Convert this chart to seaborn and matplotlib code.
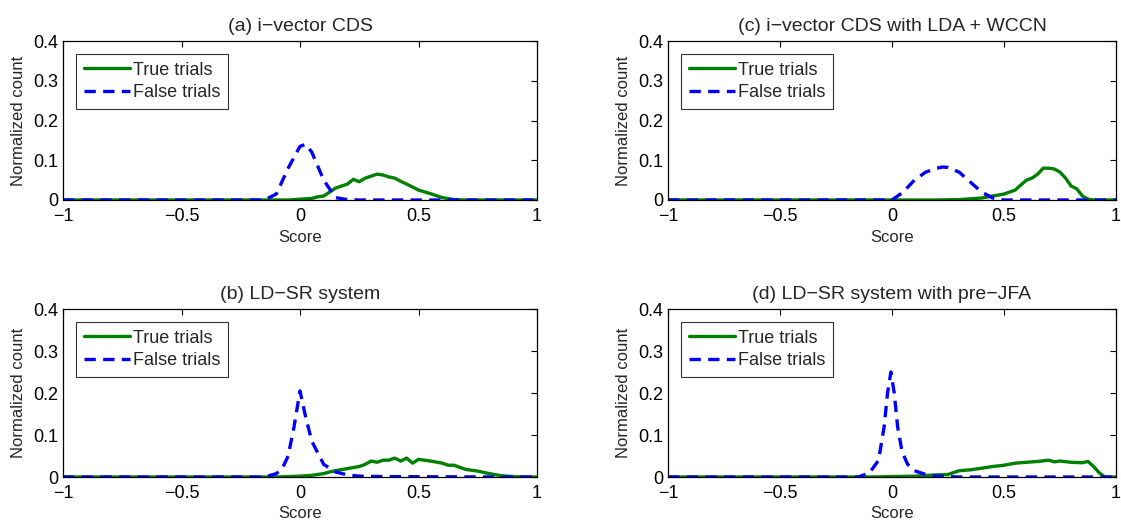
import numpy as np
import pandas as pd
import seaborn as sns
import matplotlib
matplotlib.use('Agg')
import matplotlib.pyplot as plt

titles = ['(a) i\u2212vector CDS', '(c) i\u2212vector CDS with LDA + WCCN',
          '(b) LD\u2212SR system', '(d) LD\u2212SR system with pre\u2212JFA']

# (a)
a_true_x = [-1, -0.05, 0, 0.05, 0.075, 0.1, 0.125, 0.15, 0.175, 0.2, 0.225, 0.25, 0.275, 0.3, 0.325,
            0.35, 0.375, 0.4, 0.425, 0.45, 0.5, 0.55, 0.6, 0.65, 0.7, 1]
a_true_y = [0, 0, 0.002, 0.004, 0.008, 0.01, 0.02, 0.03, 0.035, 0.04, 0.052, 0.046, 0.055, 0.06, 0.065,
            0.063, 0.058, 0.055, 0.047, 0.04, 0.025, 0.016, 0.006, 0.001, 0, 0]
a_false_x = [-1, -0.15, -0.1, -0.05, 0, 0.025, 0.05, 0.1, 0.15, 0.2, 0.25, 1]
a_false_y = [0, 0, 0.015, 0.08, 0.135, 0.14, 0.12, 0.05, 0.006, 0.001, 0, 0]

# (c)
c_true_x = [-1, 0.2, 0.3, 0.4, 0.45, 0.5, 0.525, 0.55, 0.6, 0.625, 0.65, 0.675, 0.7, 0.725, 0.75,
            0.775, 0.8, 0.825, 0.85, 0.875, 0.9, 1]
c_true_y = [0, 0, 0.001, 0.005, 0.01, 0.015, 0.02, 0.025, 0.05, 0.055, 0.065, 0.08, 0.08, 0.078, 0.07,
            0.055, 0.035, 0.028, 0.01, 0.002, 0, 0]
c_false_x = [-1, 0, 0.05, 0.1, 0.15, 0.2, 0.225, 0.25, 0.3, 0.35, 0.4, 0.45, 0.5, 1]
c_false_y = [0, 0, 0.02, 0.05, 0.07, 0.08, 0.083, 0.082, 0.07, 0.045, 0.02, 0.005, 0, 0]

# (b)
b_true_x = [-1, -0.1, 0, 0.05, 0.1, 0.125, 0.15, 0.2, 0.25, 0.275, 0.3, 0.325, 0.35, 0.375, 0.4,
            0.425, 0.45, 0.475, 0.5, 0.55, 0.6, 0.625, 0.65, 0.7, 0.75, 0.8, 0.85, 0.9, 0.95, 1]
b_true_y = [0, 0, 0.002, 0.004, 0.008, 0.012, 0.015, 0.02, 0.025, 0.03, 0.038, 0.035, 0.04, 0.04, 0.045,
            0.038, 0.045, 0.033, 0.042, 0.038, 0.033, 0.028, 0.028, 0.018, 0.014, 0.008, 0.003, 0.001, 0, 0]
b_false_x = [-1, -0.15, -0.1, -0.075, -0.05, -0.025, 0, 0.025, 0.05, 0.1, 0.15, 0.2, 0.25, 0.35, 0.6, 0.85, 1]
b_false_y = [0, 0, 0.008, 0.02, 0.05, 0.12, 0.205, 0.14, 0.085, 0.03, 0.012, 0.005, 0.002, 0.001, 0.0005, 0, 0]

# (d)
d_true_x = [-1, -0.1, 0.1, 0.2, 0.25, 0.3, 0.35, 0.4, 0.45, 0.5, 0.55, 0.6, 0.65, 0.7, 0.725,
            0.75, 0.8, 0.85, 0.875, 0.9, 0.925, 0.95, 1]
d_true_y = [0, 0, 0.002, 0.005, 0.006, 0.015, 0.017, 0.021, 0.025, 0.028, 0.033, 0.035, 0.037, 0.04, 0.036,
            0.038, 0.035, 0.034, 0.037, 0.025, 0.01, 0, 0]
d_false_x = [-1, -0.15, -0.1, -0.06, -0.035, -0.02, -0.005, 0.01, 0.025, 0.045, 0.07, 0.1, 0.15, 0.2, 0.3, 1]
d_false_y = [0, 0, 0.01, 0.04, 0.12, 0.2, 0.25, 0.2, 0.12, 0.06, 0.03, 0.015, 0.006, 0.002, 0, 0]

curves = [(a_true_x, a_true_y, a_false_x, a_false_y),
          (c_true_x, c_true_y, c_false_x, c_false_y),
          (b_true_x, b_true_y, b_false_x, b_false_y),
          (d_true_x, d_true_y, d_false_x, d_false_y)]

xticks = [-1, -0.5, 0, 0.5, 1]
xticklabels = ['\u22121', '\u22120.5', '0', '0.5', '1']
yticks = [0, 0.1, 0.2, 0.3, 0.4]
yticklabels = ['0', '0.1', '0.2', '0.3', '0.4']

sns.set_style('white')
plt.rcParams['font.family'] = ['Liberation Sans', 'DejaVu Sans']

fig = plt.figure(figsize=(11.21, 5.22), dpi=100)
W, H = 1121, 522
boxes = [(63, 41, 537, 200), (668, 41, 1116, 200), (63, 309, 537, 477), (668, 309, 1116, 477)]
dash = [3.4, 2.2]

for i, (l, t, r, b) in enumerate(boxes):
    ax = fig.add_axes([l / W, 1 - b / H, (r - l) / W, (b - t) / H])
    tx, ty, fx, fy = curves[i]
    sns.lineplot(x=tx, y=ty, ax=ax, color='#008000', lw=2.4, label='True trials', sort=False)
    sns.lineplot(x=fx, y=fy, ax=ax, color='#0000ff', lw=2.4, label='False trials', sort=False)
    ax.lines[-1].set_dashes(dash)
    ax.set_xlim(-1, 1)
    ax.set_ylim(0, 0.4)
    ax.set_xticks(xticks)
    ax.set_xticklabels(xticklabels)
    ax.set_yticks(yticks)
    ax.set_yticklabels(yticklabels)
    ax.tick_params(direction='in', length=4, width=0.8, top=True, right=True,
                   labelsize=13, colors='black')
    ax.tick_params(axis='x', pad=6)
    ax.tick_params(axis='y', pad=3.5)
    for s in ax.spines.values():
        s.set_color('black')
        s.set_linewidth(0.9)
    ax.set_xlabel('Score', fontsize=12, labelpad=3)
    ax.set_ylabel('Normalized count', fontsize=12, labelpad=5)
    ax.set_title(titles[i], fontsize=14, pad=7)
    leg = ax.legend(loc='upper left', fontsize=13, frameon=True, fancybox=False,
                    handlelength=2.55, handletextpad=0.15, borderpad=0.45, labelspacing=0.3,
                    borderaxespad=0.7)
    leg.get_frame().set_edgecolor('black')
    leg.get_frame().set_linewidth(0.8)
    leg.get_lines()[1].set_dashes(dash)

fig.savefig('out.png', dpi=100)
